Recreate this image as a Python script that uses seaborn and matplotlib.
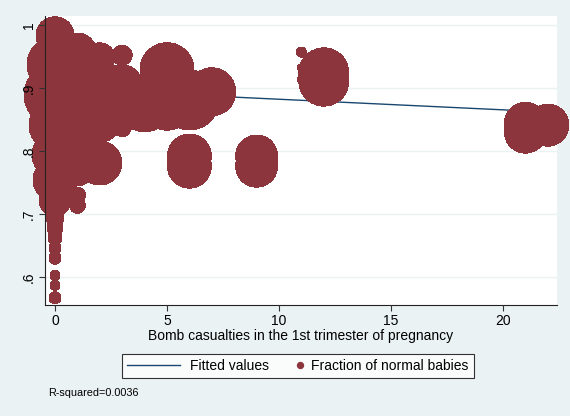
import numpy as np
import pandas as pd
import matplotlib
matplotlib.use("Agg")
import matplotlib.pyplot as plt
from matplotlib.lines import Line2D
from matplotlib.legend_handler import HandlerLine2D
import seaborn as sns

# ---- data ----
casualties = [0, 0, 0, 0, 0, 0, 0, 0, 0, 0, 0, 0, 0, 0, 0,
              1, 1, 1, 1, 1, 1,
              2, 2, 2, 2,
              3, 3, 3,
              4,
              5, 5,
              6, 6, 6,
              7,
              9, 9,
              11, 11, 11,
              12, 12,
              21, 21,
              22]
frac_normal = [0.983, 0.937, 0.889, 0.841, 0.794, 0.754, 0.722, 0.694, 0.678, 0.662, 0.646, 0.630, 0.603, 0.587, 0.567,
               0.957, 0.897, 0.833, 0.770, 0.730, 0.714,
               0.948, 0.913, 0.849, 0.781,
               0.952, 0.905, 0.837,
               0.875,
               0.929, 0.876,
               0.881, 0.792, 0.776,
               0.894,
               0.792, 0.776,
               0.957, 0.932, 0.914,
               0.924, 0.911,
               0.844, 0.830,
               0.841]
births = [361, 784, 961, 676, 529, 484, 256, 81, 64, 49, 36, 36, 25, 25, 36,
          361, 484, 484, 256, 64, 64,
          225, 400, 484, 484,
          100, 400, 81,
          784,
          729, 729,
          900, 484, 484,
          576,
          441, 441,
          25, 16, 16,
          625, 625,
          441, 441,
          441]
fit_x = [0, 22]
fit_y = [0.899, 0.862]

x_ticks = [0, 5, 10, 15, 20]
x_ticklabels = ["0", "5", "10", "15", "20"]
y_ticks = [0.6, 0.7, 0.8, 0.9, 1.0]
y_ticklabels = [".6", ".7", ".8", ".9", "1"]

df = pd.DataFrame({"x": casualties, "y": frac_normal, "w": births})
fit_df = pd.DataFrame({"x": fit_x, "y": fit_y})

# ---- style ----
BG = "#EAF2F3"
MAROON = "#8C353C"
NAVY = "#1A476F"
plt.rcParams["font.family"] = ["Liberation Sans", "DejaVu Sans"]

fig = plt.figure(figsize=(5.7, 4.16), dpi=100, facecolor=BG)
ax = fig.add_axes([45 / 570, 1 - 305 / 416, 512 / 570, 289 / 416])
ax.set_facecolor("white")

ax.set_xlim(-0.446, 22.41)
ax.set_ylim(0.5556, 1.0143)

for yt in y_ticks:
    ax.axhline(yt, color=BG, lw=1.0, zorder=0)

sns.lineplot(data=fit_df, x="x", y="y", ax=ax, color=NAVY, lw=1.0, zorder=2)

px_per_pt = 100 / 72
wmax = max(births)
smax = (2 * np.sqrt(wmax) / px_per_pt) ** 2
sns.scatterplot(data=df, x="x", y="y", size="w", sizes=(0, smax),
                size_norm=(0, wmax), color=MAROON, edgecolor=MAROON,
                linewidth=0, alpha=1, ax=ax, legend=False, zorder=3)
for coll in ax.collections:
    coll.set_clip_on(False)
    coll.set_antialiased(False)

ax.set_xticks(x_ticks)
ax.set_xticklabels(x_ticklabels)
ax.set_yticks(y_ticks)
ax.set_yticklabels(y_ticklabels, rotation=90, va="center")
ax.tick_params(axis="both", length=4.3, width=0.8, color="#333333",
               labelsize=10, pad=2.0)
ax.set_xlabel("Bomb casualties in the 1st trimester of pregnancy",
              fontsize=10, labelpad=1)
ax.set_ylabel("")
ax.xaxis.set_zorder(4)
ax.yaxis.set_zorder(4)

for s in ["top", "right"]:
    ax.spines[s].set_visible(False)
for s in ["left", "bottom"]:
    ax.spines[s].set_color("#222222")
    ax.spines[s].set_linewidth(0.8)
    ax.spines[s].set_zorder(4)


class RightMarkerHandler(HandlerLine2D):
    def get_xdata(self, legend, xdescent, ydescent, width, height, fontsize):
        xm = -xdescent + width - 1
        return np.array([xm - 0.5, xm + 0.5]), np.array([xm])


handles = [Line2D([0], [0], color=NAVY, lw=1.0),
           Line2D([0], [0], marker="o", color=MAROON, lw=0, markersize=4.3)]
leg = fig.legend(handles, ["Fitted values", "Fraction of normal babies"],
                 loc="center", bbox_to_anchor=(298 / 570, 1 - 366 / 416),
                 ncol=2, frameon=True, fancybox=False, fontsize=10,
                 handlelength=3.8, handletextpad=0.72, columnspacing=-1.5,
                 borderpad=0.38,
                 handler_map={handles[1]: RightMarkerHandler(numpoints=1)})
leg.get_frame().set_edgecolor("black")
leg.get_frame().set_linewidth(0.8)
leg.get_frame().set_facecolor("white")

fig.text(48 / 570, 1 - 393 / 416, "R-squared=0.0036", fontsize=7.8,
         va="center", ha="left")

fig.savefig("out.png", dpi=100, facecolor=BG)
